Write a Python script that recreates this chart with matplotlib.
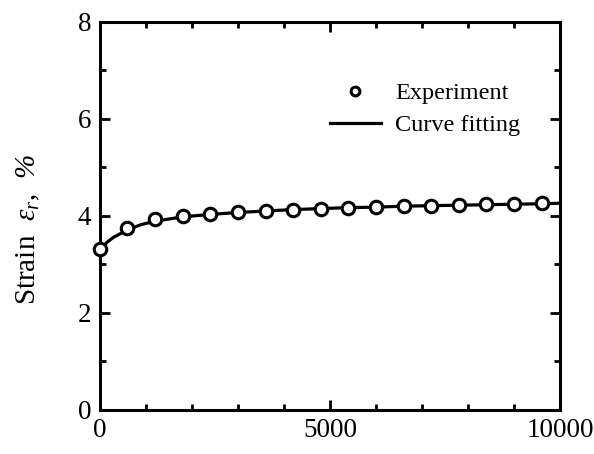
import numpy as np
import matplotlib
matplotlib.use("Agg")
import matplotlib.pyplot as plt
from matplotlib.ticker import MultipleLocator

plt.rcParams['font.family'] = ['Liberation Serif', 'DejaVu Serif']
plt.rcParams['mathtext.fontset'] = 'custom'
plt.rcParams['mathtext.rm'] = 'Liberation Serif:italic'
plt.rcParams['mathtext.it'] = 'Liberation Serif:italic'

# experiment points
t_exp = [0, 600, 1200, 1800, 2400, 3000, 3600, 4200, 4800, 5400,
         6000, 6600, 7200, 7800, 8400, 9000, 9600]
strain_exp = [3.31, 3.75, 3.93, 3.99, 4.04, 4.07, 4.10, 4.13, 4.15, 4.17,
              4.19, 4.20, 4.21, 4.23, 4.24, 4.25, 4.27]

# fitted curve
t_fit = [0, 150, 300, 600, 900, 1200, 1800, 2400, 3000, 3600, 4200,
         4800, 5400, 6000, 6600, 7200, 7800, 8400, 9000, 9600, 10000]
strain_fit = [3.30, 3.45, 3.56, 3.71, 3.82, 3.89, 3.98, 4.03, 4.07, 4.10, 4.13,
              4.15, 4.17, 4.18, 4.20, 4.21, 4.22, 4.23, 4.24, 4.25, 4.26]

fig = plt.figure(figsize=(5.94, 4.54), dpi=100)
ax = fig.add_axes([0.168, 0.097, 0.775, 0.855])

ax.plot(t_fit, strain_fit, color='black', lw=2.3, label='Curve fitting', zorder=2)
ax.plot(t_exp, strain_exp, 'o', ms=9, mfc='white', mec='black', mew=2.2,
        label='Experiment', zorder=3, clip_on=False)

ax.set_xlim(0, 10000)
ax.set_ylim(0, 8)
ax.set_xticks([0, 5000, 10000])
ax.set_yticks([0, 2, 4, 6, 8])
ax.xaxis.set_minor_locator(MultipleLocator(1000))
ax.yaxis.set_minor_locator(MultipleLocator(1))
ax.tick_params(which='both', direction='in', top=True, right=True, width=2,
               labelsize=19.5)
ax.tick_params(which='major', length=7, pad=6)
ax.tick_params(which='minor', length=4)
for s in ax.spines.values():
    s.set_linewidth(2.2)

ax.set_ylabel(r'Strain  $\varepsilon_r$,  $\%$', fontsize=21)
ax.yaxis.set_label_coords(-0.125, 0.465)

h, l = ax.get_legend_handles_labels()
ax.legend(h[::-1], l[::-1], loc='upper left', bbox_to_anchor=(0.452, 0.9),
          frameon=False, fontsize=17.5, handlelength=2.1, handletextpad=0.6,
          labelspacing=0.4, markerscale=0.7)

fig.savefig('out.png', dpi=100)
